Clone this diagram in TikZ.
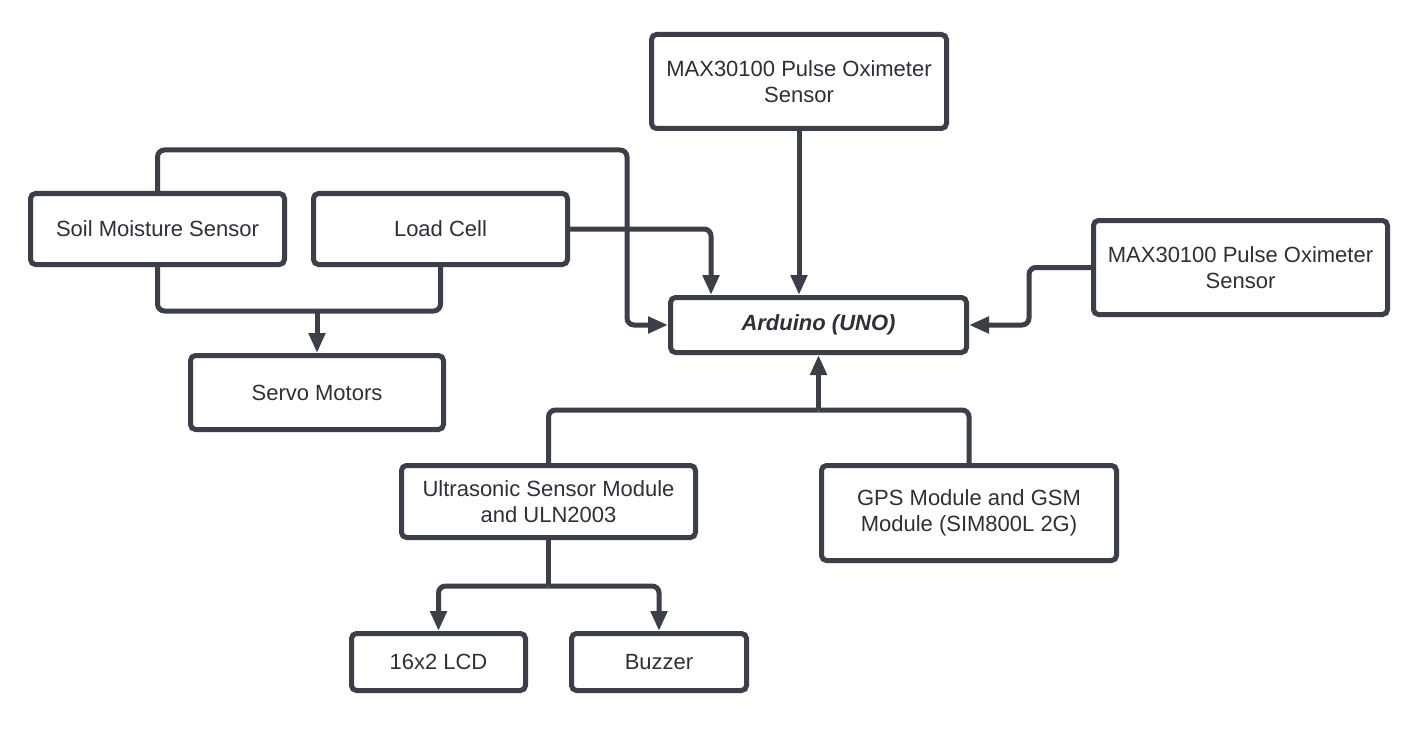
\documentclass[tikz,border=0pt]{standalone}
\usepackage{fontspec}
\setmainfont{Liberation Sans}
\usetikzlibrary{arrows.meta}
\definecolor{edge}{RGB}{58,63,72}
\definecolor{txt}{RGB}{45,48,54}
\tikzset{
  blk/.style={draw=edge, line width=5pt, rounded corners=5pt, fill=white,
    align=center, text=txt, inner sep=0pt,
    font=\fontsize{22}{26.5}\selectfont},
  conn/.style={draw=edge, line width=5pt, rounded corners=7pt},
  arr/.style={conn, -{Triangle[length=20pt,width=16pt]}}
}
\begin{document}
\begin{tikzpicture}[x=1pt,y=-1pt]
\useasboundingbox (0,0) rectangle (1423,730);
\fill[white] (0,0) rectangle (1423,730);
% boxes
\node[blk, minimum width=295pt, minimum height=94pt] (maxtop) at (799,81.5) {MAX30100 Pulse Oximeter\\Sensor};
\node[blk, minimum width=254pt, minimum height=71pt] (soil) at (157.5,229) {Soil Moisture Sensor};
\node[blk, minimum width=254pt, minimum height=71pt] (load) at (440.5,229) {Load Cell};
\node[blk, minimum width=296pt, minimum height=55pt] (ard) at (818.5,325) {\bfseries\itshape Arduino (UNO)};
\node[blk, minimum width=294pt, minimum height=94pt] (maxr) at (1240.5,267.5) {MAX30100 Pulse Oximeter\\Sensor};
\node[blk, minimum width=253pt, minimum height=74pt] (servo) at (317,392.5) {Servo Motors};
\node[blk, minimum width=294pt, minimum height=72pt] (ultra) at (548.5,501.5) {Ultrasonic Sensor Module\\and ULN2003};
\node[blk, minimum width=295pt, minimum height=95pt] (gps) at (969,513) {GPS Module and GSM\\Module (SIM800L 2G)};
\node[blk, minimum width=174pt, minimum height=57pt] (lcd) at (438.5,662) {16x2 LCD};
\node[blk, minimum width=175pt, minimum height=57pt] (buzz) at (659,662) {Buzzer};
% junction coordinates
\coordinate (topL) at (157.5,150);
\coordinate (topR) at (627,150);
\coordinate (ardLin) at (627,325);
\coordinate (loadTurn) at (711,229);
\coordinate (rTurn) at (1029,267.5);
\coordinate (rIn) at (1029,325);
\coordinate (servoJ) at (317,311);
\coordinate (busU) at (818.5,410);
\coordinate (busD) at (548.5,586);
% connectors
\begin{scope}[on background layer/.style={}]
\draw[arr] (soil.north) -- (topL) -- (topR) -- (ardLin) -- (ard.west);
\draw[arr] (load.east) -- (loadTurn) -- (loadTurn |- ard.north);
\draw[arr] (maxtop.south) -- (maxtop.south |- ard.north);
\draw[arr] (maxr.west) -- (rTurn) -- (rIn) -- (ard.east);
\draw[conn] (soil.south) |- (servoJ);
\draw[conn] (load.south) |- (servoJ);
\draw[arr] (servoJ) -- (servo.north);
\draw[conn] (ultra.north) |- (busU);
\draw[conn] (gps.north) |- (busU);
\draw[arr] (busU) -- (ard.south);
\draw[conn] (ultra.south) -- (busD);
\draw[arr] (busD) -| (lcd.north);
\draw[arr] (busD) -| (buzz.north);
\end{scope}
\end{tikzpicture}
\end{document}
